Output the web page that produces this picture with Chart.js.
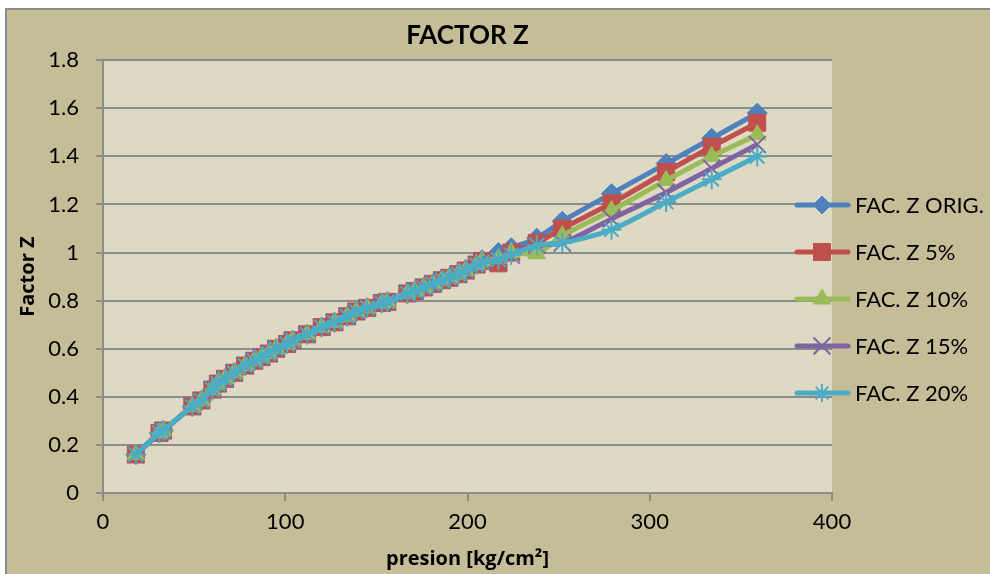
<!DOCTYPE html>
<html>
<head>
<meta charset="utf-8">
<script src="https://cdn.jsdelivr.net/npm/chart.js@4"></script>
<style>
  html, body { margin: 0; padding: 0; background: #ffffff; }
  #wrap { width: 990px; height: 574px; position: relative; }
</style>
</head>
<body>
<div id="wrap"><canvas id="zChart" width="990" height="574"></canvas></div>
<script>
// presion [kg/cm2]
const presion = [18, 31, 33, 49, 54, 60, 63, 67, 72, 78, 83, 87, 91, 95, 101, 104, 112, 120, 127, 134, 139,
    145, 153, 156, 167, 171, 176, 181, 186, 190, 195, 199, 205, 208, 217, 224, 238, 252, 279, 309, 334, 359];

const zOrig = [0.16, 0.25, 0.26, 0.36, 0.385, 0.43, 0.455, 0.475, 0.50, 0.53, 0.55, 0.565, 0.58, 0.60, 0.62, 0.635, 0.66,
    0.69, 0.71, 0.735, 0.755, 0.77, 0.79, 0.795, 0.83, 0.84, 0.855, 0.87, 0.885, 0.895, 0.91, 0.93, 0.955, 0.97,
    1.00, 1.02, 1.06, 1.13, 1.245, 1.37, 1.475, 1.58];
const z5 = [0.16, 0.25, 0.26, 0.36, 0.385, 0.43, 0.455, 0.475, 0.50, 0.53, 0.55, 0.565, 0.58, 0.60, 0.62, 0.635, 0.66,
    0.69, 0.71, 0.735, 0.755, 0.77, 0.79, 0.795, 0.83, 0.84, 0.855, 0.87, 0.885, 0.895, 0.91, 0.925, 0.95, 0.965,
    0.955, 1.00, 1.04, 1.10, 1.205, 1.335, 1.44, 1.54];
const z10 = [0.16, 0.25, 0.26, 0.36, 0.385, 0.43, 0.455, 0.475, 0.50, 0.53, 0.55, 0.565, 0.58, 0.60, 0.62, 0.635, 0.66,
    0.69, 0.71, 0.735, 0.755, 0.77, 0.79, 0.795, 0.83, 0.84, 0.855, 0.87, 0.885, 0.895, 0.91, 0.925, 0.95, 0.965,
    0.975, 1.00, 0.995, 1.07, 1.175, 1.30, 1.40, 1.49];
const z15 = [0.16, 0.25, 0.26, 0.36, 0.385, 0.43, 0.455, 0.475, 0.50, 0.53, 0.55, 0.565, 0.58, 0.60, 0.62, 0.635, 0.66,
    0.69, 0.71, 0.735, 0.755, 0.77, 0.79, 0.795, 0.83, 0.84, 0.855, 0.87, 0.885, 0.895, 0.91, 0.925, 0.95, 0.96,
    0.97, 0.99, 1.03, 1.04, 1.14, 1.25, 1.35, 1.45];
const z20 = [0.16, 0.25, 0.26, 0.36, 0.385, 0.43, 0.455, 0.475, 0.50, 0.53, 0.55, 0.565, 0.58, 0.60, 0.62, 0.635, 0.66,
    0.69, 0.71, 0.735, 0.755, 0.77, 0.79, 0.795, 0.83, 0.84, 0.855, 0.87, 0.885, 0.895, 0.91, 0.925, 0.95, 0.96,
    0.97, 0.99, 1.03, 1.04, 1.095, 1.21, 1.305, 1.40];

const seriesNames = ['FAC. Z ORIG.', 'FAC. Z 5%', 'FAC. Z 10%', 'FAC. Z 15%', 'FAC. Z 20%'];
const seriesValues = [zOrig, z5, z10, z15, z20];
const seriesColors = ['#4F81BD', '#C0504D', '#9BBB59', '#8064A2', '#4BACC6'];
const seriesMarkers = ['rectRot', 'rect', 'triangle', 'crossRot', 'star'];
const markerSizes = [10, 12, 10, 12, 10];
const legendMarkerSizes = [9, 12, 10, 12, 9];

const FONT = 'Lato, "Open Sans", sans-serif';
const FONT_B = '"Open Sans", Lato, sans-serif';

const datasets = seriesValues.map((vals, i) => ({
    label: seriesNames[i],
    data: vals.map((v, j) => ({ x: presion[j], y: v })),
    borderColor: seriesColors[i],
    backgroundColor: seriesColors[i],
    pointBackgroundColor: seriesColors[i],
    pointBorderColor: seriesColors[i],
    pointStyle: seriesMarkers[i],
    pointRadius: markerSizes[i],
    pointBorderWidth: (i >= 3) ? 2 : 1,
    borderWidth: 5,
    tension: 0.3,
    order: 4 - i
}));

// backgrounds: white page, tan chart box, light plot area
const bgPlugin = {
    id: 'bgPlugin',
    beforeDraw(c) {
        const ctx = c.ctx, a = c.chartArea;
        ctx.save();
        ctx.fillStyle = '#C4BD97';
        ctx.fillRect(6, 9, c.width - 6, c.height - 9);
        ctx.strokeStyle = '#8c8c8c';
        ctx.lineWidth = 2;
        ctx.strokeRect(6, 9, c.width + 10, c.height + 10);
        ctx.fillStyle = '#DDD9C3';
        ctx.fillRect(a.left, a.top, a.right - a.left, a.bottom - a.top);
        ctx.restore();
    }
};

// legend drawn over the right side, like the spreadsheet one
const legendPlugin = {
    id: 'legendPlugin',
    afterDraw(c) {
        const ctx = c.ctx;
        ctx.save();
        seriesNames.forEach((name, i) => {
            const y = 205 + i * 47;
            ctx.strokeStyle = seriesColors[i];
            ctx.lineWidth = 5;
            ctx.lineCap = 'round';
            ctx.beginPath();
            ctx.moveTo(797, y);
            ctx.lineTo(848, y);
            ctx.stroke();
            ctx.fillStyle = seriesColors[i];
            ctx.strokeStyle = seriesColors[i];
            ctx.lineWidth = (i >= 3) ? 2 : 1;
            ctx.lineCap = 'butt';
            Chart.helpers.drawPoint(ctx, {
                pointStyle: seriesMarkers[i],
                radius: legendMarkerSizes[i],
                borderWidth: (i >= 3) ? 2 : 1,
                rotation: 0
            }, 822, y);
            ctx.fillStyle = '#000000';
            ctx.font = '22px ' + FONT;
            ctx.textBaseline = 'middle';
            ctx.textAlign = 'left';
            ctx.fillText(name, 855, y + 1);
        });
        ctx.restore();
    }
};

const ctx = document.getElementById('zChart').getContext('2d');
const chart = new Chart(ctx, {
    type: 'line',
    data: { datasets: datasets },
    options: {
        responsive: false,
        animation: false,
        layout: { padding: { top: 20, right: 158, bottom: 3, left: 0 } },
        scales: {
            x: {
                type: 'linear',
                min: 0,
                max: 400,
                afterFit: (s) => { s.height = 78; },
                ticks: { stepSize: 100, color: '#000', padding: 8, font: { size: 22, family: FONT } },
                grid: { drawOnChartArea: false, drawTicks: true, tickLength: 8, color: '#8c8c8c', lineWidth: 2 },
                border: { color: '#8c8c8c', width: 2 },
                title: {
                    display: true,
                    text: 'presion [kg/cm²]',
                    color: '#000',
                    font: { size: 20, weight: 'bold', family: FONT_B },
                    padding: { top: 0, bottom: 0 }
                }
            },
            y: {
                min: 0,
                max: 1.8,
                afterFit: (s) => { s.width = 103; },
                ticks: { stepSize: 0.2, color: '#000', padding: 17, font: { size: 22, family: FONT },
                    callback: (v) => Math.round(v * 10) / 10 },
                grid: { color: '#8c8c8c', lineWidth: 2, drawTicks: true, tickLength: 7 },
                border: { color: '#8c8c8c', width: 2 },
                title: {
                    display: true,
                    text: 'Factor Z',
                    color: '#000',
                    font: { size: 20, weight: 'bold', family: FONT_B },
                    padding: { top: 16, bottom: 0 }
                }
            }
        },
        plugins: {
            legend: { display: false },
            tooltip: { enabled: false },
            title: {
                display: true,
                text: 'FACTOR Z',
                fullSize: false,
                color: '#000',
                font: { size: 26, weight: 'bold', family: FONT },
                padding: { top: 0, bottom: 9 }
            }
        }
    },
    plugins: [bgPlugin, legendPlugin]
});
</script>
</body>
</html>
